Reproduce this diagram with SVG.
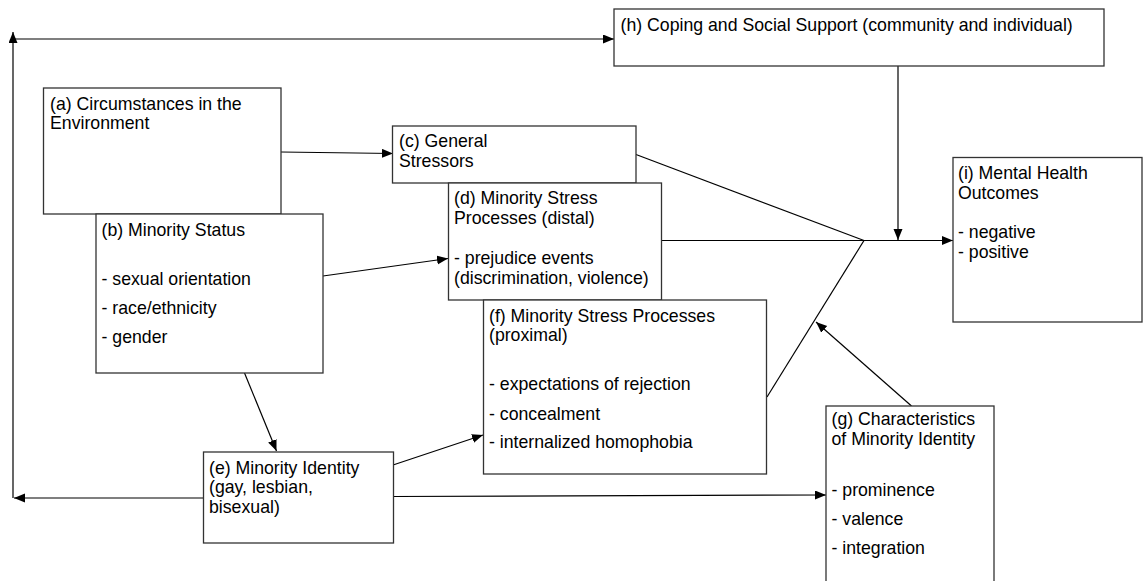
<svg xmlns="http://www.w3.org/2000/svg" width="1143" height="581" viewBox="0 0 1143 581">
<style>
  .box { fill: #ffffff; stroke: #333333; stroke-width: 1.3; }
  .t { font-family: "Liberation Sans", Arial, sans-serif; font-size: 17.7px; fill: #000000; }
  .ln { fill: none; stroke: #000000; stroke-width: 1.2; }
  .arr { fill: none; stroke: #000000; stroke-width: 1.2; marker-end: url(#ah); }
</style>
<defs>
  <marker id="ah" markerUnits="userSpaceOnUse" markerWidth="12" markerHeight="10" refX="11" refY="4.5" orient="auto">
    <path d="M0,0 L11,4.5 L0,9 z" fill="#000000"/>
  </marker>
</defs>
<rect width="1143" height="581" fill="#ffffff"/>

<g id="connectors">
  <path class="arr" d="M203,498 H14"/>
  <path class="arr" d="M13,498 V32"/>
  <path class="arr" d="M14,39 H614"/>
  <path class="arr" d="M281,152 L393,153.5"/>
  <path class="ln" d="M636,154.5 L864,240.5"/>
  <path class="ln" d="M661.5,240.5 H864"/>
  <path class="ln" d="M767,397 L864,240.5"/>
  <path class="arr" d="M864,240.5 H953"/>
  <path class="arr" d="M898,66 V240"/>
  <path class="arr" d="M911.5,406 L816,322"/>
  <path class="arr" d="M323,276 L448,258.5"/>
  <path class="arr" d="M244.5,373 L276.5,451"/>
  <path class="arr" d="M393,465 L483,435"/>
  <path class="arr" d="M393,496.5 L826,495"/>
</g>

<g id="node-a">
  <rect class="box" x="43.5" y="88" width="237.5" height="126"/>
  <text class="t" x="50" y="109.5">(a) Circumstances in the</text>
  <text class="t" x="50" y="129">Environment</text>
</g>

<g id="node-b">
  <rect class="box" x="96" y="214" width="227" height="159"/>
  <text class="t" x="101.5" y="236">(b) Minority Status</text>
  <text class="t" x="101.5" y="284.5">- sexual orientation</text>
  <text class="t" x="101.5" y="313.5">- race/ethnicity</text>
  <text class="t" x="101.5" y="342.5">- gender</text>
</g>

<g id="node-c">
  <rect class="box" x="392.5" y="126" width="243.5" height="57"/>
  <text class="t" x="399" y="146.5">(c) General</text>
  <text class="t" x="399" y="166.5">Stressors</text>
</g>

<g id="node-d">
  <rect class="box" x="448.5" y="183" width="213" height="117"/>
  <text class="t" x="454" y="204">(d) Minority Stress</text>
  <text class="t" x="454" y="224">Processes (distal)</text>
  <text class="t" x="454" y="263.5">- prejudice events</text>
  <text class="t" x="454" y="283.5">(discrimination, violence)</text>
</g>

<g id="node-f">
  <rect class="box" x="483.5" y="300" width="283" height="174"/>
  <text class="t" x="489" y="321.5">(f) Minority Stress Processes</text>
  <text class="t" x="489" y="341">(proximal)</text>
  <text class="t" x="489" y="390">- expectations of rejection</text>
  <text class="t" x="489" y="419.5">- concealment</text>
  <text class="t" x="489" y="448">- internalized homophobia</text>
</g>

<g id="node-e">
  <rect class="box" x="203.5" y="452" width="190" height="91"/>
  <text class="t" x="209" y="473.5">(e) Minority Identity</text>
  <text class="t" x="209" y="493">(gay, lesbian,</text>
  <text class="t" x="209" y="512.5">bisexual)</text>
</g>

<g id="node-g">
  <rect class="box" x="826" y="406" width="168" height="180"/>
  <text class="t" x="831.5" y="425">(g) Characteristics</text>
  <text class="t" x="831.5" y="445">of Minority Identity</text>
  <text class="t" x="831.5" y="496">- prominence</text>
  <text class="t" x="831.5" y="525">- valence</text>
  <text class="t" x="831.5" y="553.5">- integration</text>
</g>

<g id="node-h">
  <rect class="box" x="614" y="9" width="490" height="57"/>
  <text class="t" x="620.5" y="31">(h) Coping and Social Support (community and individual)</text>
</g>

<g id="node-i">
  <rect class="box" x="953" y="157.5" width="189" height="164.5"/>
  <text class="t" x="958" y="179">(i) Mental Health</text>
  <text class="t" x="958" y="198.5">Outcomes</text>
  <text class="t" x="958" y="237.5">- negative</text>
  <text class="t" x="958" y="257.5">- positive</text>
</g>
</svg>
